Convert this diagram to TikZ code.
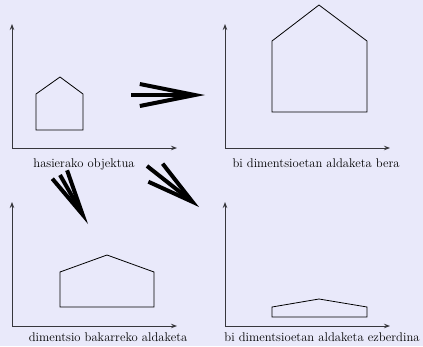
\documentclass[tikz,border=0pt]{standalone}
\definecolor{paleback}{RGB}{233,233,250}
\definecolor{axisgray}{RGB}{55,55,60}
\usetikzlibrary{arrows.meta}

\begin{document}
\begin{tikzpicture}[x=1pt, y=-1pt]
      \tikzstyle{axis} = [draw=axisgray, line width=0.9pt, -{Stealth[length=6pt, width=4.5pt, inset=2pt]}]
      \tikzstyle{house} = [draw, line width=0.8pt, line join=miter]
      \tikzstyle{caption} = [anchor=base, inner sep=0pt, font=\fontsize{12.6}{14}\selectfont]
      \tikzstyle{bigarrow} = [draw, line width=4pt]

      \fill [paleback] (0,0) rectangle (423,346);
      \useasboundingbox (0,0) rectangle (423,346);

      % axes
      \coordinate (o1) at (12,148);
      \coordinate (o2) at (225,148);
      \coordinate (o3) at (12,326);
      \coordinate (o4) at (225,326);
      \foreach \o in {o1,o2,o3,o4} {
        \path [axis] (\o) -- ++(0,-124);
        \path [axis] (\o) -- ++(165,0);
      }

      % houses
      \path [house] (36,130) -- (83,130) -- (83,94) -- (60,77) -- (36,94) -- cycle;
      \path [house] (272,112) -- (367,112) -- (367,41) -- (319,5) -- (272,41) -- cycle;
      \path [house] (60,307) -- (154,307) -- (154,272) -- (107,255) -- (60,272) -- cycle;
      \path [house] (272,317) -- (367,317) -- (367,307) -- (319,299) -- (272,307) -- cycle;

      % captions
      \node [caption] (orig) at (84,167) {hasierako objektua};
      \node [caption] (both) at (316,167) {bi dimentsioetan aldaketa bera};
      \node [caption] (one) at (108,341) {dimentsio bakarreko aldaketa};
      \node [caption] (diff) at (322,341) {bi dimentsioetan aldaketa ezberdina};

      % transformations
      \coordinate (r0) at (131,95);
      \coordinate (r1) at (205,95);
      \coordinate (d0) at (60,175);
      \coordinate (d1) at (88,224);
      \coordinate (s0) at (147,166);
      \coordinate (s1) at (199,207);
      \path [bigarrow, -{Straight Barb[length=55pt, width=22pt]}] (r0) -- (r1);
      \path [bigarrow, -{Straight Barb[length=46pt, width=17pt]}] (d0) -- (d1);
      \path [bigarrow, -{Straight Barb[length=47pt, width=23pt]}] (s0) -- (s1);
    \end{tikzpicture}
\end{document}
